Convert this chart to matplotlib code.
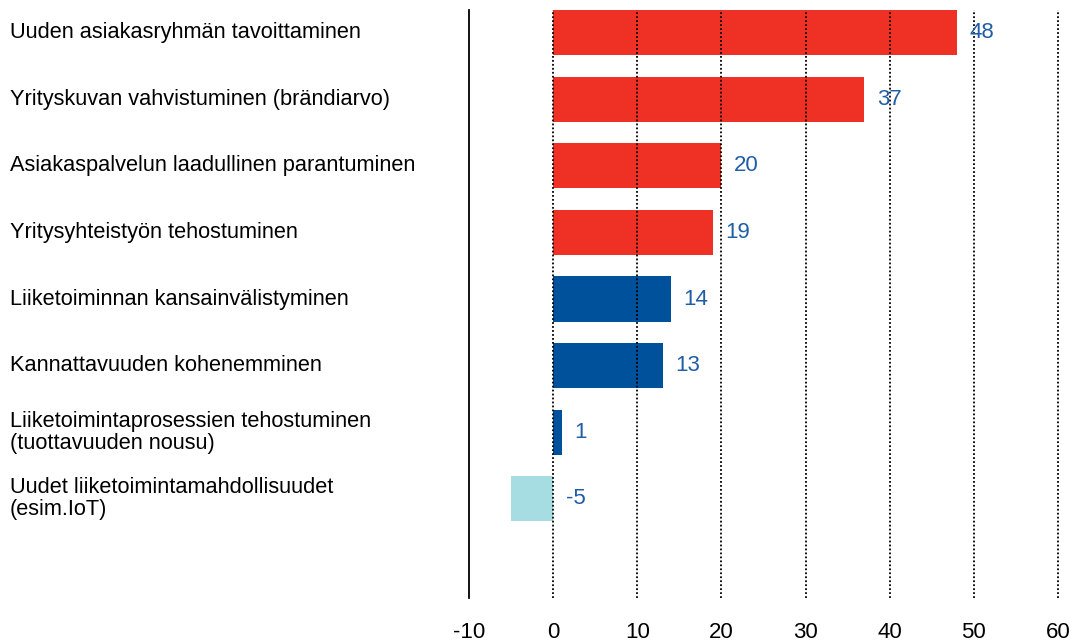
import matplotlib
matplotlib.use("Agg")
import matplotlib.pyplot as plt
import matplotlib.transforms as mtransforms

categories = [
    "Uuden asiakasryhmän tavoittaminen",
    "Yrityskuvan vahvistuminen (brändiarvo)",
    "Asiakaspalvelun laadullinen parantuminen",
    "Yritysyhteistyön tehostuminen",
    "Liiketoiminnan kansainvälistyminen",
    "Kannattavuuden kohenemminen",
    "Liiketoimintaprosessien tehostuminen\n(tuottavuuden nousu)",
    "Uudet liiketoimintamahdollisuudet\n(esim.IoT)",
]
values = [48, 37, 20, 19, 14, 13, 1, -5]
groups = ["red", "red", "red", "red", "blue", "blue", "blue", "light"]
xticks = [-10, 0, 10, 20, 30, 40, 50, 60]

colors = {"red": "#EE3124", "blue": "#00519B", "light": "#A6DDE3"}
label_color = "#1F5DA6"

plt.rcParams["font.family"] = ["Liberation Sans", "DejaVu Sans"]

fig = plt.figure(figsize=(10.75, 6.42), dpi=100)
ax = fig.add_axes([469 / 1075, 1 - 598 / 642, (1058 - 469) / 1075, (598 - 10) / 642])

ypos = list(range(len(values)))
ax.barh(ypos, values, height=0.68, color=[colors[g] for g in groups], zorder=2)

for t in xticks[1:]:
    ax.axvline(t, color="black", linestyle=(0, (1, 1.2)), linewidth=1.3,
               zorder=3, clip_on=False)

ax.set_xlim(-10, 60)
ax.set_ylim(8.49, -0.34)
ax.set_xticks(xticks)
ax.set_xticklabels([str(t) for t in xticks], fontsize=16)
ax.tick_params(axis="x", length=0, pad=17)
ax.set_yticks([])
for s in ["top", "right", "bottom"]:
    ax.spines[s].set_visible(False)
ax.spines["left"].set_linewidth(1.3)
ax.spines["left"].set_color("black")

for y, v in zip(ypos, values):
    ax.annotate(str(v), xy=(max(v, 0), y), xytext=(9, 0), textcoords="offset points",
                ha="left", va="center", fontsize=16, color=label_color, zorder=4)

trans = mtransforms.blended_transform_factory(fig.transFigure, ax.transData)
for y, c in zip(ypos, categories):
    ax.text(10 / 1075, y, c, transform=trans, ha="left", va="center",
            fontsize=15.7, color="black", linespacing=1.05)

fig.savefig("out.png", dpi=100)
